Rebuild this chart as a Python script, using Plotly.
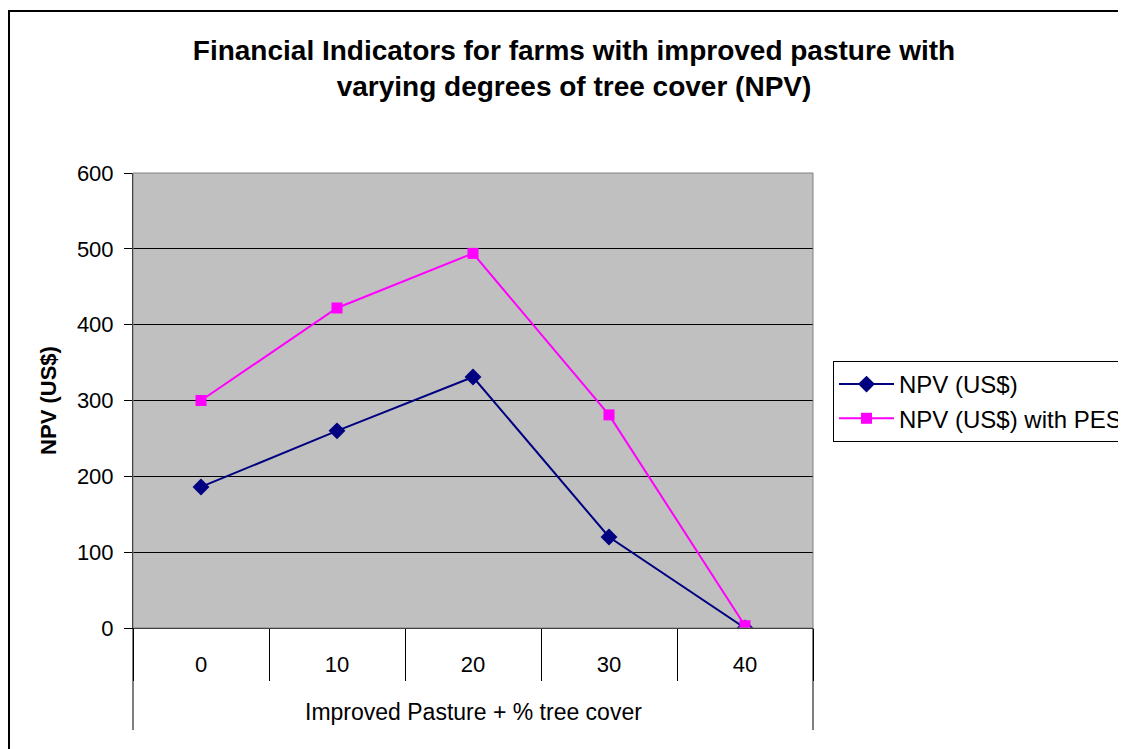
import plotly.graph_objects as go

categories = ["0", "10", "20", "30", "40"]
npv = [186, 260, 331, 120, 0]
npv_pes = [300, 422, 494, 281, 3]
y_ticks = [0, 100, 200, 300, 400, 500, 600]

W, H = 1126, 749
OFF = 8  # page body margin offset
# plot area in reference (screen) pixels
RL, RR, RT, RB = 133, 813, 173, 628
L, R, T, B = RL - OFF, RR - OFF, RT - OFF, RB - OFF
pw, ph = R - L, B - T

def px(x):
    return (x - OFF - L) / pw

def py(y):
    return (B - (y - OFF)) / ph

fig = go.Figure()
fig.add_trace(go.Scatter(
    x=categories, y=npv, name="NPV (US$)", mode="lines+markers",
    line=dict(color="#000080", width=2),
    marker=dict(symbol="diamond", size=13, color="#000080"),
))
fig.add_trace(go.Scatter(
    x=categories, y=npv_pes, name="NPV (US$) with PES", mode="lines+markers",
    line=dict(color="#FF00FF", width=2),
    marker=dict(symbol="square", size=11, color="#FF00FF"),
))

font = "Liberation Sans, Arial, sans-serif"

fig.update_layout(
    width=W, height=H,
    margin=dict(l=L, r=W - R, t=T, b=H - B, autoexpand=False),
    paper_bgcolor="white",
    plot_bgcolor="#C0C0C0",
    font=dict(family=font, size=22, color="black"),
    title=dict(
        text="<b>Financial Indicators for farms with improved pasture with<br>varying degrees of tree cover (NPV)</b>",
        font=dict(family=font, size=28, color="black"),
        xref="container", x=(574 - OFF) / W, xanchor="center",
        yref="container", y=1 - (36 + 16 + 8 - OFF) / H, yanchor="top",
    ),
    showlegend=True,
    legend=dict(
        x=px(833), y=py(361), xanchor="left", yanchor="top",
        bordercolor="black", borderwidth=1, bgcolor="white",
        font=dict(family=font, size=24, color="black"),
        itemwidth=55,
    ),
    xaxis=dict(
        type="category", categoryorder="array", categoryarray=categories,
        range=[-0.5, 4.5],
        showgrid=False, zeroline=False,
        showline=True, linecolor="black", linewidth=1,
        ticks="outside", tickson="boundaries", ticklen=52,
        tickcolor="black", tickwidth=1,
        ticklabelstandoff=17,
        tickfont=dict(family=font, size=22, color="black"),
    ),
    yaxis=dict(
        range=[0, 600], tickvals=y_ticks,
        showgrid=True, gridcolor="black", gridwidth=1,
        zeroline=False,
        showline=True, linecolor="black", linewidth=1,
        ticks="outside", ticklen=8, tickcolor="black", tickwidth=1,
        ticklabelstandoff=6,
        tickfont=dict(family=font, size=22, color="black"),
        title=dict(text="<b>NPV (US$)</b>",
                   font=dict(family=font, size=22, color="black"),
                   standoff=14),
    ),
    annotations=[
        dict(text="Improved Pasture + % tree cover", xref="paper", yref="paper",
             x=0.5, y=py(712), xanchor="center", yanchor="middle",
             showarrow=False, font=dict(family=font, size=23, color="black")),
    ],
    shapes=[
        # plot area border
        dict(type="rect", xref="paper", yref="paper", x0=0, x1=1, y0=0, y1=1,
             line=dict(color="#808080", width=1), layer="above"),
        # category box outer verticals
        dict(type="line", xref="paper", yref="paper", x0=0, x1=0, y0=0, y1=py(730),
             line=dict(color="black", width=1)),
        dict(type="line", xref="paper", yref="paper", x0=1, x1=1, y0=0, y1=py(730),
             line=dict(color="black", width=1)),
        # outer chart frame
        dict(type="rect", xref="paper", yref="paper",
             x0=px(9), x1=px(1250), y0=py(900), y1=py(11),
             line=dict(color="black", width=2)),
    ],
)

fig.write_html("out.html")
